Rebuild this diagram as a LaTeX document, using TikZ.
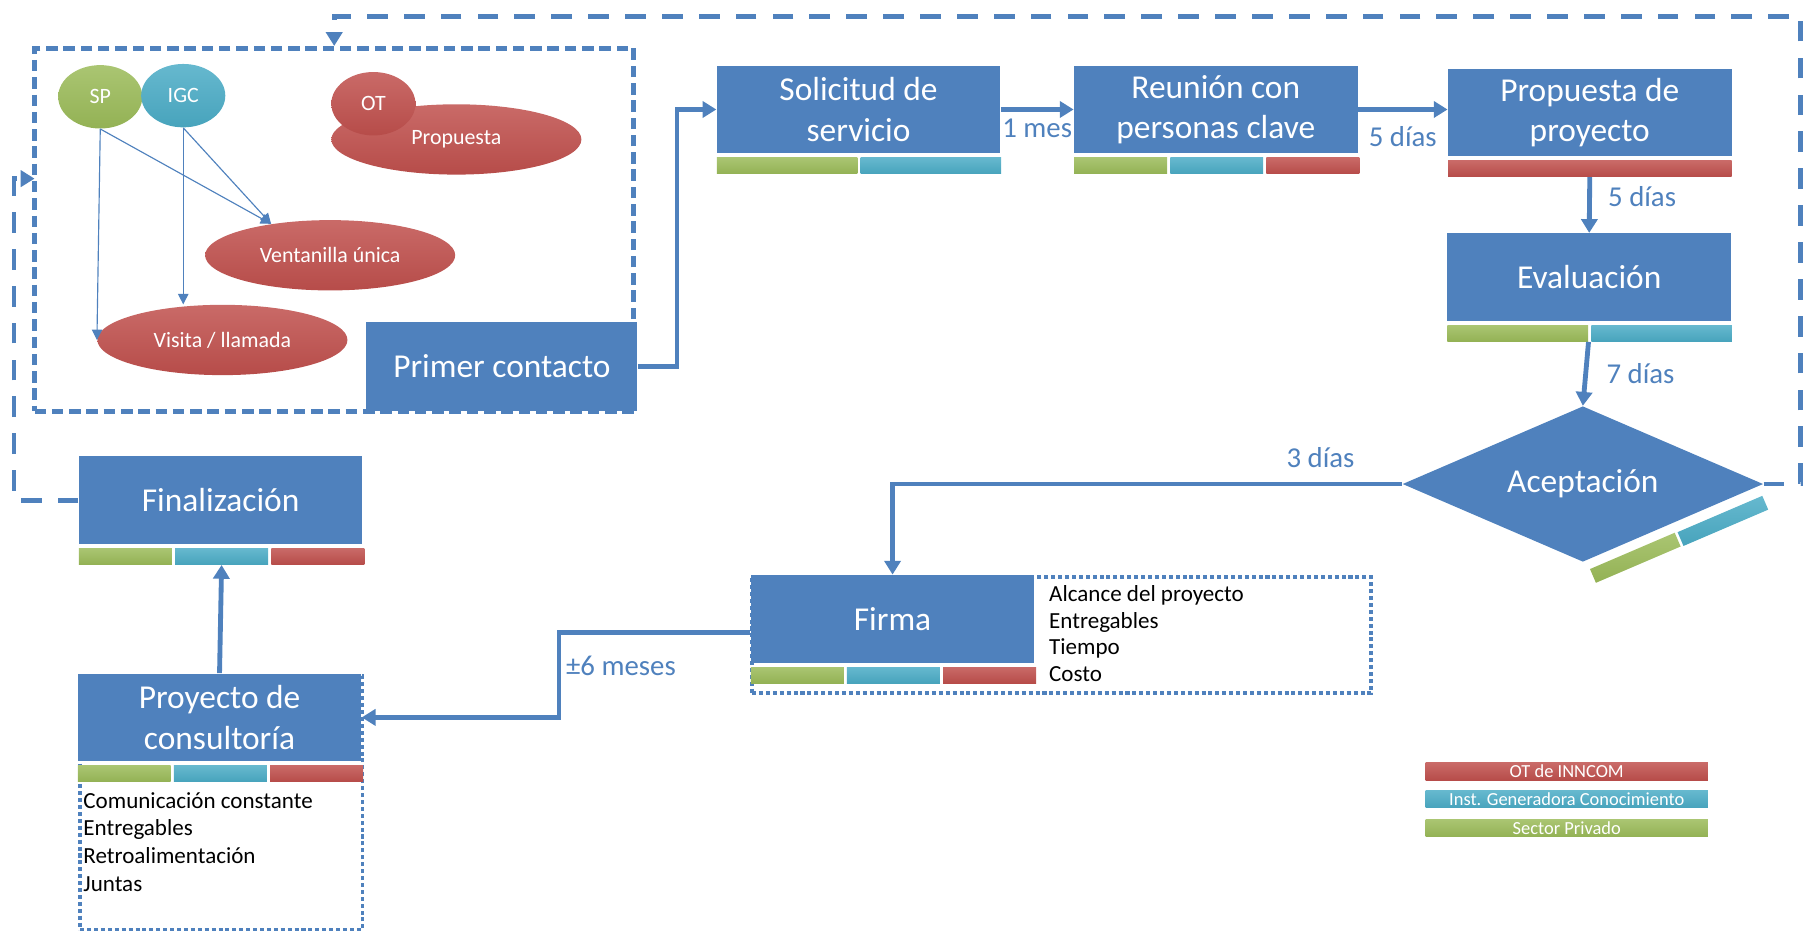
\documentclass[tikz,border=0pt]{standalone}
\usepackage{fontspec}
\setmainfont{Carlito}
\usetikzlibrary{positioning,shapes.geometric,arrows.meta}
\definecolor{myblue}{HTML}{4F81BD}
\definecolor{myred}{HTML}{C0504D}
\definecolor{mycyan}{HTML}{4BACC6}
\definecolor{mygreen}{HTML}{9BBB59}

\begin{document}
\begin{tikzpicture}[x=0.5pt,y=-0.5pt]
\tikzset{Paso/.style={rectangle, fill=myblue, text=white, align=center, inner sep=0,
    minimum width=123pt, minimum height=38pt, font=\fontsize{14.5}{17.5}\selectfont}}
\tikzset{Barra/.style={rectangle, inner sep=0, minimum height=7pt, minimum width=40.33pt,
    top color=#1!85!white, bottom color=#1!95!black}}
\tikzset{Leyenda/.style={Barra=#1, minimum width=122.5pt, minimum height=7.5pt,
    text=white, font=\fontsize{8}{8}\selectfont}}
\tikzset{Elipse/.style={ellipse, inner sep=0, minimum width=108.5pt, minimum height=30.5pt,
    top color=myred!85!white, bottom color=myred!95!black, text=white, font=\fontsize{9.5}{11}\selectfont}}
\tikzset{Circulo/.style={Elipse, minimum width=36.5pt, minimum height=27.5pt,
    top color=#1!85!white, bottom color=#1!95!black}}
\tikzset{Zona/.style={draw=myblue, line width=2.1pt, dash pattern=on 5pt off 2.5pt}}
\tikzset{Lista/.style={draw=myblue, line width=1.6pt, dash pattern=on 1.75pt off 1.25pt}}
\tikzset{Texto/.style={inner sep=0, align=left, anchor=north west, font=\fontsize{10}{11.5}\selectfont}}
\tikzset{Flecha/.style={draw=myblue, line width=2.1pt, -{Triangle[length=6pt,width=7pt]}}}
\tikzset{Retro/.style={Flecha, dash pattern=on 9pt off 7pt}}
\tikzset{Fina/.style={draw=myblue, line width=0.5pt, -{Triangle[length=4.5pt,width=4.5pt]}}}
\tikzset{Etiqueta/.style={inner sep=0, text=myblue, font=\fontsize{12.5}{15}\selectfont}}
\useasboundingbox (0,0) rectangle (1568,809);

\node[Zona, rectangle, minimum width=260pt, minimum height=157.5pt] (zona) at (290,199.5) {};
\node[Elipse] (propuesta) at (396,121) {Propuesta};
\node[Circulo=myred] (ot) at (324,90) {OT};
\node[Circulo=mygreen] (sp) at (87,84) {SP};
\node[Circulo=mycyan] (igc) at (159,83) {IGC};
\node[Elipse] (ventanilla) at (286.5,221.5) {Ventanilla única};
\node[Elipse] (visita) at (193,295) {Visita / llamada};
\draw[Fina] (sp.south) -- (visita.west);
\draw[Fina] (sp.south) -- (ventanilla.152);
\draw[Fina] (igc.south) -- (ventanilla.152);
\draw[Fina] (igc.south) -- (igc.south |- visita.north);

\node[Lista, rectangle, anchor=north west, minimum width=268.5pt, minimum height=50.5pt] (firma-lista) at (651,499) {};
\node[Lista, rectangle, anchor=north west, minimum width=122.5pt, minimum height=110pt] (proy-lista) at (68,585) {};

\node[Paso] (sol) at (745,95) {Solicitud de\\servicio};
\node[Paso] (reu) at (1055,95) {Reunión con\\personas clave};
\node[Paso] (prop) at (1379.5,97.5) {Propuesta de\\proyecto};
\node[Paso] (eval) at (1379,240.5) {Evaluación};
\node[Paso, minimum width=117.5pt, minimum height=39pt] (primer) at (435.5,318) {Primer contacto};
\node[Paso] (fin) at (191.5,434) {Finalización};
\node[Paso] (firma) at (774.5,537) {Firma};
\node[Paso] (proy) at (190.5,622.5) {Proyecto de\\consultoría};
\node[shape=diamond, fill=myblue, text=white, aspect=2.3, inner sep=0, minimum width=156.5pt,
    minimum height=67.5pt, font=\fontsize{14.5}{17.5}\selectfont] (acep) at (1373.5,420) {Aceptación};

\node[Barra=mygreen, minimum width=61pt, below right=1.5pt and 0pt of sol.south west] (sol-sp) {};
\node[Barra=mycyan, minimum width=61pt, right=1pt of sol-sp] (sol-igc) {};
\node[Barra=mygreen, below right=1.5pt and 0pt of reu.south west] (reu-sp) {};
\node[Barra=mycyan, right=1pt of reu-sp] (reu-igc) {};
\node[Barra=myred, right=1pt of reu-igc] (reu-ot) {};
\node[Barra=myred, minimum width=123pt, below=1.5pt of prop] (prop-ot) {};
\node[Barra=mygreen, minimum width=61pt, below right=1.5pt and 0pt of eval.south west] (eval-sp) {};
\node[Barra=mycyan, minimum width=61pt, right=1pt of eval-sp] (eval-igc) {};
\node[Barra=mygreen, below right=1.5pt and 0pt of fin.south west] (fin-sp) {};
\node[Barra=mycyan, right=1pt of fin-sp] (fin-igc) {};
\node[Barra=myred, right=1pt of fin-igc] (fin-ot) {};
\node[Barra=mygreen, below right=1.5pt and 0pt of firma.south west] (firma-sp) {};
\node[Barra=mycyan, right=1pt of firma-sp] (firma-igc) {};
\node[Barra=myred, right=1pt of firma-igc] (firma-ot) {};
\node[Barra=mygreen, below right=1.5pt and 0pt of proy.south west] (proy-sp) {};
\node[Barra=mycyan, right=1pt of proy-sp] (proy-igc) {};
\node[Barra=myred, right=1pt of proy-igc] (proy-ot) {};
\node[Barra=mygreen, minimum width=40pt, minimum height=6.5pt, rotate=23.2] (acep-sp) at (1419,484) {};
\node[Barra=mycyan, minimum width=40pt, minimum height=6.5pt, rotate=23.2] (acep-igc) at (1495,452) {};

\node[Texto] (firma-txt) at (910,508) {Alcance del proyecto\\Entregables\\Tiempo\\Costo};
\node[Texto, font=\fontsize{10}{12}\selectfont] (proy-txt) at (72,687) {Comunicación constante\\Entregables\\Retroalimentación\\Juntas};

\draw[Flecha] (primer.east) -- ++(34,0) |- (sol.west);
\draw[Flecha] (sol.east) -- node[Etiqueta, below=3pt] {1 mes} (reu.west);
\draw[Flecha] (reu.east) -- node[Etiqueta, below=6.5pt] {5 días} (reu.east -| prop.west);
\draw[Flecha] (prop-ot.south) -- node[Etiqueta, pos=0.35, right=7pt] {5 días} (eval.north);
\draw[Flecha] (eval-sp.south east) -- node[Etiqueta, right=8pt] {7 días} (acep.north);
\draw[Flecha] (acep.west) -| node[Etiqueta, pos=0.08, above=6pt] {3 días} (firma.north);
\draw[Flecha] ([yshift=-6pt]firma.west) -- ++(-166,0) node[Etiqueta, below right=9pt and 2pt] {±6 meses} |- (proy.east);
\draw[Flecha] (proy.north) -- (fin-igc.south);

\coordinate (entrada) at (30,155);
\draw[Retro] (fin.west) -- ++(-56,0) |- (entrada);
\draw[Retro] (acep.east) -- ++(32,0) -- ++(0,-406) -| (zona.north);

\node[Leyenda=myred] (ley-ot) at (1359.5,669.5) {OT de INNCOM};
\node[Leyenda=mycyan] (ley-igc) at (1359.5,693.5) {Inst. Generadora Conocimiento};
\node[Leyenda=mygreen] (ley-sp) at (1359.5,718.5) {Sector Privado};
\end{tikzpicture}
\end{document}
